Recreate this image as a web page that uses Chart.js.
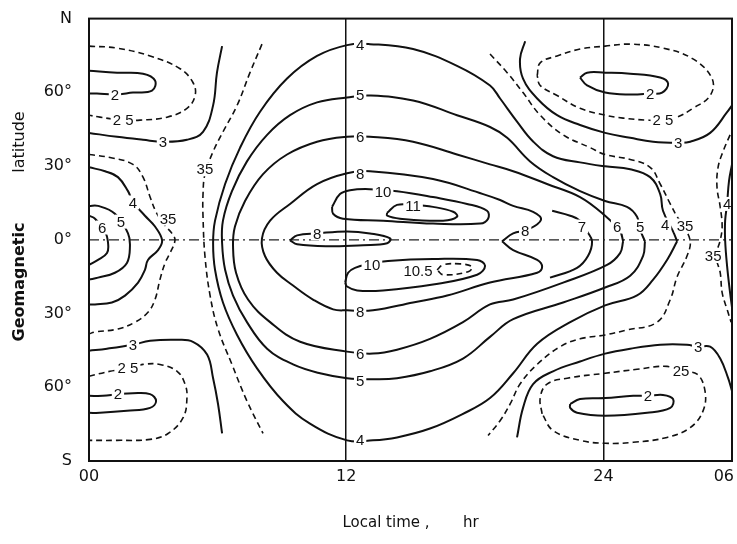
<!DOCTYPE html>
<html>
<head>
<meta charset="utf-8">
<script src="https://cdn.jsdelivr.net/npm/chart.js@4.4.1/dist/chart.umd.min.js"></script>
<style>
  html, body { margin: 0; padding: 0; background: #fff; }
</style>
</head>
<body>
<canvas id="chart" width="737" height="544"></canvas>
<script>
// contour lines, each point is [local time (hr), geomagnetic latitude (deg)]
// day-side family
const c4 = [[27.44,-0.6],[27.25,3.4],[26.78,11.8],[26.65,18.6],[26.18,25.5],[25.25,28.7],[24.08,29.9],[22.91,31.5],[21.65,34.0],[20.72,40.0],[19.97,48.1],[19.18,57.5],[18.71,62.8],[17.17,70.8],[15.12,77.6],[13.11,79.6],[12.04,79.2],[10.64,74.8],[9.24,65.6],[7.98,52.1],[7.05,37.5],[6.35,22.7],[5.88,7.8],[5.79,-1.4],[5.88,-12.2],[6.25,-25.5],[6.91,-38.7],[7.84,-52.3],[9.05,-65.6],[10.31,-74.8],[12.04,-81.6],[13.25,-81.6],[14.37,-80.4],[15.91,-76.8],[17.45,-70.8],[18.71,-64.4],[19.79,-54.3],[20.91,-42.3],[22.45,-33.5],[24.08,-26.7],[25.57,-22.6],[26.32,-16.2],[26.97,-8.2],[27.44,-0.6]];
const c5 = [[25.94,-0.6],[25.71,4.2],[25.57,9.4],[25.10,13.4],[24.08,15.8],[22.91,19.8],[21.65,25.5],[20.58,31.9],[19.51,41.5],[18.71,45.9],[17.17,50.7],[15.12,56.7],[13.11,58.7],[12.04,57.9],[10.64,55.9],[9.38,50.7],[8.31,42.7],[7.37,31.9],[6.67,19.8],[6.25,7.8],[6.21,-1.4],[6.35,-12.2],[6.72,-22.7],[7.37,-33.5],[8.31,-44.3],[9.52,-50.7],[10.78,-54.3],[12.04,-56.3],[13.25,-56.7],[14.37,-56.3],[15.91,-53.5],[17.45,-48.3],[18.71,-39.5],[19.79,-32.3],[22.12,-25.5],[24.08,-19.4],[25.25,-14.6],[25.85,-6.6],[25.94,-0.6]];
const c6 = [[24.92,-0.6],[24.78,3.4],[24.08,9.8],[22.91,17.4],[21.37,22.7],[19.79,27.9],[18.71,30.7],[17.17,34.7],[15.12,39.9],[13.11,41.9],[12.04,41.9],[10.64,39.9],[9.24,34.7],[8.12,26.7],[7.28,15.8],[6.81,5.4],[6.72,-2.6],[6.86,-13.4],[7.42,-24.3],[8.45,-33.5],[9.85,-41.5],[12.04,-45.5],[13.25,-46.3],[14.37,-44.7],[15.91,-40.3],[17.45,-33.5],[18.71,-26.3],[19.79,-24.3],[22.12,-17.4],[24.17,-10.2],[24.78,-5.4],[24.92,-0.6]];
const c7 = [[21.61,11.8],[22.45,9.8],[22.91,7.8],[23.24,3.4],[23.47,-0.6],[23.28,-6.6],[22.77,-11.4],[21.51,-15.4]];
const c8 = [[19.27,-0.6],[19.79,2.6],[20.49,4.2],[21.09,8.2],[20.72,11.4],[19.79,13.8],[19.18,16.2],[18.39,18.6],[16.05,24.7],[13.11,27.9],[12.04,27.1],[10.64,22.7],[9.38,14.6],[8.45,7.8],[8.07,0.6],[8.21,-6.6],[8.77,-13.4],[9.52,-18.6],[10.45,-24.3],[11.39,-28.3],[12.04,-28.7],[13.25,-28.7],[15.12,-25.5],[16.71,-22.7],[18.71,-17.4],[20.91,-13.4],[21.14,-11.0],[20.91,-8.2],[19.79,-4.2],[19.27,-0.6]];
const c8Small = [[9.38,-0.2],[9.71,1.8],[10.64,2.6],[12.04,3.4],[13.11,2.6],[14.05,0.6],[13.91,-1.4],[12.79,-2.2],[11.25,-2.6],[9.71,-1.8],[9.38,-0.2]];
const c10North = [[11.34,13.4],[11.71,18.6],[12.18,20.2],[13.11,20.6],[14.37,19.8],[16.05,17.4],[17.64,14.6],[18.57,11.8],[18.62,8.6],[18.25,6.6],[16.05,6.6],[13.72,7.8],[11.85,8.6],[11.39,10.6],[11.34,13.4]];
const c11 = [[13.91,11.0],[14.37,14.2],[15.12,14.2],[16.05,13.4],[16.99,11.4],[17.17,9.4],[16.52,7.8],[14.51,8.6],[13.91,9.8],[13.91,11.0]];
const c10South = [[11.95,-17.4],[12.09,-13.4],[12.41,-11.4],[13.11,-9.8],[13.95,-8.6],[16.05,-7.8],[18.11,-8.2],[18.48,-10.6],[18.11,-14.2],[16.05,-18.2],[13.72,-20.6],[12.51,-20.6],[12.04,-19.0],[11.95,-17.4]];
const c105 = [[16.24,-12.2],[16.52,-10.2],[17.31,-9.8],[17.87,-11.0],[17.69,-13.0],[16.52,-14.2],[16.24,-12.2]];
const c35Dawn = [[8.07,79.6],[7.51,68.0],[6.91,54.7],[6.25,43.9],[5.79,35.9],[5.41,26.7],[5.32,18.6],[5.32,9.4],[5.41,-6.6],[5.65,-22.7],[6.02,-36.3],[6.67,-50.7],[7.37,-65.6],[8.12,-78.8]];
const c35Dusk = [[18.71,75.6],[19.51,68.0],[20.25,59.9],[21.05,50.7],[22.12,42.7],[23.38,37.5],[24.08,34.7],[25.25,32.7],[26.18,29.5],[26.65,22.7],[27.12,14.6],[27.44,9.4],[27.72,5.8],[28.05,-0.6],[27.90,-6.6],[27.44,-15.0],[27.12,-24.3],[26.51,-33.5],[25.10,-36.7],[24.08,-38.7],[22.91,-40.3],[21.98,-43.5],[20.91,-50.7],[20.11,-58.7],[19.65,-66.8],[19.18,-73.6],[18.62,-79.6]];

// night side, left edge (00 hr)
const c3NW = [[0,43.5],[1.31,41.9],[2.52,40.7],[3.45,39.9],[4.57,40.7],[5.32,43.9],[5.79,54.7],[5.97,68.0],[6.21,78.8]];
const c25NW = [[0,78.8],[1.31,78.0],[2.85,74.8],[4.25,69.6],[4.85,64.0],[4.95,58.7],[4.57,53.5],[3.64,49.9],[2.38,48.7],[1.59,48.7],[0.51,49.9],[0,50.7]];
const c2NW = [[0,68.8],[1.31,68.0],[2.52,67.6],[3.08,64.8],[2.94,60.7],[2.05,59.9],[1.21,59.1],[0.37,59.5],[0,59.5]];
const c35W = [[0,34.7],[0.98,33.5],[2.05,30.7],[2.52,25.5],[2.85,17.4],[3.17,10.6],[3.55,5.8],[3.87,2.6],[4.01,-0.2],[3.78,-5.4],[3.55,-9.4],[3.31,-16.2],[3.08,-24.3],[2.75,-29.5],[2.15,-33.5],[1.35,-36.3],[0.28,-37.5],[0,-38.3]];
const c4W = [[0,29.5],[0.75,27.9],[1.35,25.5],[1.82,19.8],[2.05,15.4],[2.61,9.8],[3.08,5.4],[3.41,-0.2],[3.22,-4.2],[2.75,-8.2],[2.61,-12.2],[2.29,-17.4],[1.68,-22.7],[1.07,-25.5],[0.28,-26.3],[0,-26.3]];
const c5W = [[0,13.8],[0.42,13.8],[1.21,10.6],[1.82,2.6],[1.91,-2.6],[1.77,-9.4],[1.21,-13.4],[0.42,-15.4],[0,-16.2]];
const c6W = [[0,9.8],[0.28,8.6],[0.75,3.4],[0.89,-1.4],[0.84,-5.4],[0.42,-8.2],[0,-10.2]];
const c3SW = [[0,-45.1],[0.84,-44.3],[2.05,-42.7],[2.85,-41.1],[4.11,-40.7],[4.85,-41.5],[5.51,-46.7],[5.79,-56.3],[6.02,-66.8],[6.21,-78.8]];
const c25SW = [[0,-55.5],[0.98,-53.5],[1.82,-52.3],[2.52,-50.7],[3.31,-50.7],[4.11,-53.5],[4.48,-58.7],[4.57,-64.4],[4.39,-72.4],[3.69,-78.8],[2.85,-81.2],[1.31,-81.6],[0,-81.6]];
const c2SW = [[0,-63.5],[0.65,-63.5],[1.35,-62.8],[2.05,-62.4],[2.85,-62.8],[3.13,-65.6],[2.85,-68.4],[1.77,-69.6],[0.51,-70.4],[0,-70.4]];

// night side, around 24 hr and the 06 edge
const c3NE = [[20.35,80.8],[20.11,73.6],[20.25,65.6],[20.91,57.5],[21.84,50.7],[22.91,46.7],[24.08,43.5],[25.25,41.5],[26.32,39.9],[27.49,39.5],[28.05,39.9],[28.98,43.5],[29.77,51.9],[30,54.7]];
const c25NE = [[20.91,66.8],[21.05,72.0],[21.84,74.8],[22.91,77.6],[24.08,78.8],[25.25,79.6],[26.78,78.0],[28.18,73.6],[29.07,65.6],[28.98,58.7],[28.18,53.5],[27.44,49.9],[26.78,48.7],[26.04,48.7],[24.92,49.5],[24.08,50.7],[22.91,53.5],[21.84,58.7],[21.05,62.8],[20.91,66.8]];
const c2NE = [[22.91,66.0],[23.24,68.0],[24.08,68.0],[25.25,67.6],[26.65,66.0],[27.02,63.5],[26.74,59.9],[26.18,59.5],[25.25,59.1],[24.08,59.9],[23.24,62.8],[22.91,66.0]];
const c35E = [[29.91,42.7],[29.58,35.9],[29.35,29.5],[29.30,21.5],[29.45,13.4],[29.54,5.4],[29.45,-0.2],[29.26,-6.6],[29.45,-13.4],[29.54,-21.5],[29.77,-28.3],[29.96,-33.5]];
const c4E = [[30,30.7],[29.86,23.9],[29.77,14.6],[29.68,7.8],[29.68,-0.2],[29.77,-10.6],[29.91,-21.5],[30,-27.5]];
const c3SE = [[19.97,-80.4],[20.25,-68.4],[20.72,-58.7],[21.65,-53.5],[22.91,-49.5],[24.08,-46.3],[25.25,-44.3],[26.65,-42.7],[27.90,-42.7],[28.42,-43.5],[28.98,-43.5],[29.45,-48.3],[29.82,-56.3],[30,-61.5]];
const c25SE = [[21.14,-70.8],[21.05,-64.4],[21.37,-58.7],[22.31,-56.3],[24.08,-54.3],[25.57,-52.7],[26.97,-51.5],[27.58,-53.5],[28.37,-54.7],[28.74,-61.5],[28.65,-69.6],[28.05,-76.4],[26.97,-80.4],[25.39,-82.4],[24.08,-82.8],[22.91,-81.6],[21.65,-77.6],[21.14,-70.8]];
const c2SE = [[22.45,-66.8],[22.91,-64.8],[24.08,-64.4],[25.39,-63.5],[26.08,-63.5],[26.78,-63.1],[27.25,-64.8],[27.12,-68.4],[26.04,-70.4],[24.08,-71.6],[22.77,-70.4],[22.45,-68.4],[22.45,-66.8]];

const solidContours = [c4, c5, c6, c7, c8, c8Small, c10North, c11, c10South, c3NW, c2NW, c4W, c5W, c6W, c3SW, c2SW, c3NE, c2NE, c4E, c3SE, c2SE];
const dashedContours = [c105, c35Dawn, c35Dusk, c25NW, c35W, c25SW, c25NE, c35E, c25SE];
const equatorLine = [[0, 0], [30, 0]];

// contour values written on the lines: [text, hr, lat]
const contourLabels = [
  ["4", 12.65, 79.2], ["5", 12.65, 58.9], ["6", 12.65, 41.9], ["8", 12.65, 26.7],
  ["10", 13.72, 19.4], ["11", 15.12, 13.8], ["8", 10.64, 2.6],
  ["10", 13.2, -10.2], ["10.5", 15.35, -12.6],
  ["8", 12.65, -29.5], ["6", 12.65, -46.3], ["5", 12.65, -57.5], ["4", 12.65, -81.6],
  ["8", 20.35, 3.8], ["7", 23.0, 5.4], ["6", 24.64, 5.4], ["5", 25.71, 5.4], ["4", 26.88, 6.2], ["35", 27.81, 5.8],
  ["4", 29.77, 14.6], ["35", 29.12, -6.6],
  ["2", 26.18, 59.5], ["2 5", 26.78, 48.7], ["3", 27.49, 39.5],
  ["3", 28.42, -43.5], ["25", 27.62, -53.3], ["2", 26.08, -63.5],
  ["2", 1.21, 58.9], ["2 5", 1.59, 48.7], ["3", 3.45, 39.9], ["35", 5.41, 28.7],
  ["4", 2.05, 15.2], ["35", 3.69, 8.6], ["5", 1.49, 7.4], ["6", 0.61, 5.0],
  ["3", 2.05, -42.7], ["2 5", 1.82, -52.3], ["2", 1.35, -62.8]
];

const xTickValues = [0, 12, 24, 30];
const xTickLabels = ["00", "12", "24", "06"];
const yTickValues = [90, 60, 30, 0, -30, -60, -90];
const yTickLabels = ["N", "60°", "30°", "0°", "30°", "60°", "S"];

const toPoints = (line) => line.map(([h, lat]) => ({ x: h, y: lat }));

const datasets = [];
solidContours.forEach((line) => {
  datasets.push({ data: toPoints(line), borderColor: "#111", borderWidth: 2, tension: 0.4 });
});
dashedContours.forEach((line) => {
  datasets.push({ data: toPoints(line), borderColor: "#111", borderWidth: 1.6, borderDash: [6, 4], tension: 0.4 });
});
datasets.push({ data: toPoints(equatorLine), borderColor: "#222", borderWidth: 1.2, borderDash: [10, 4, 2, 4], tension: 0 });

// labels, frame and axis texts
const decorations = {
  id: "decorations",
  afterDatasetsDraw(chart) {
    const { ctx, chartArea: a, scales: { x, y } } = chart;
    ctx.save();
    ctx.font = '15px "Liberation Sans"';
    ctx.textAlign = "center";
    ctx.textBaseline = "middle";
    contourLabels.forEach(([t, h, lat]) => {
      const px = x.getPixelForValue(h);
      const py = y.getPixelForValue(lat);
      const w = ctx.measureText(t).width;
      ctx.fillStyle = "#fff";
      ctx.fillRect(px - w / 2 - 2, py - 7, w + 4, 14);
      ctx.fillStyle = "#111";
      ctx.fillText(t, px, py + 1);
    });

    ctx.lineWidth = 2;
    ctx.strokeStyle = "#111";
    ctx.strokeRect(a.left, a.top, a.right - a.left, a.bottom - a.top);

    ctx.font = '16px "DejaVu Sans"';
    ctx.textBaseline = "top";
    xTickValues.forEach((v, i) => {
      const last = i === xTickValues.length - 1;
      ctx.textAlign = last ? "right" : "center";
      ctx.fillText(xTickLabels[i], x.getPixelForValue(v) + (last ? 2 : 0), a.bottom + 8);
    });

    ctx.translate(20, 0);
    ctx.rotate(-Math.PI / 2);
    ctx.textAlign = "center";
    ctx.textBaseline = "middle";
    ctx.font = '16px "DejaVu Sans"';
    ctx.fillText("latitude", -142, 0);
    ctx.font = 'bold 16px "DejaVu Sans"';
    ctx.fillText("Geomagnetic", -282, 0);
    ctx.restore();
  },
};

new Chart(document.getElementById("chart"), {
  type: "scatter",
  data: { datasets: datasets },
  options: {
    responsive: false,
    animation: false,
    showLine: true,
    layout: { padding: { left: 0, right: 5, top: 12, bottom: 0 } },
    elements: { point: { radius: 0, hoverRadius: 0 } },
    plugins: { legend: { display: false }, tooltip: { enabled: false } },
    scales: {
      x: {
        type: "linear",
        min: 0,
        max: 30,
        afterBuildTicks: (scale) => {
          scale.ticks = [12, 24].map((v) => ({ value: v }));
        },
        afterFit: (scale) => {
          scale.height = 83;
        },
        ticks: { display: false },
        grid: { color: "#111", lineWidth: 1.5, drawTicks: false },
        border: { display: false },
        title: {
          display: true,
          text: "Local time ,       hr",
          color: "#111",
          font: { family: "DejaVu Sans", size: 15 },
          padding: { top: 4, bottom: 12 },
        },
      },
      y: {
        type: "linear",
        min: -90,
        max: 90,
        afterBuildTicks: (scale) => {
          scale.ticks = yTickValues.map((v) => ({ value: v }));
        },
        afterFit: (scale) => {
          scale.width = 89;
        },
        ticks: {
          padding: 9,
          color: "#111",
          font: { family: "DejaVu Sans", size: 16 },
          callback: (v) => yTickLabels[yTickValues.indexOf(v)],
        },
        grid: { display: false },
        border: { display: false },
      },
    },
  },
  plugins: [decorations],
});
</script>
</body>
</html>
